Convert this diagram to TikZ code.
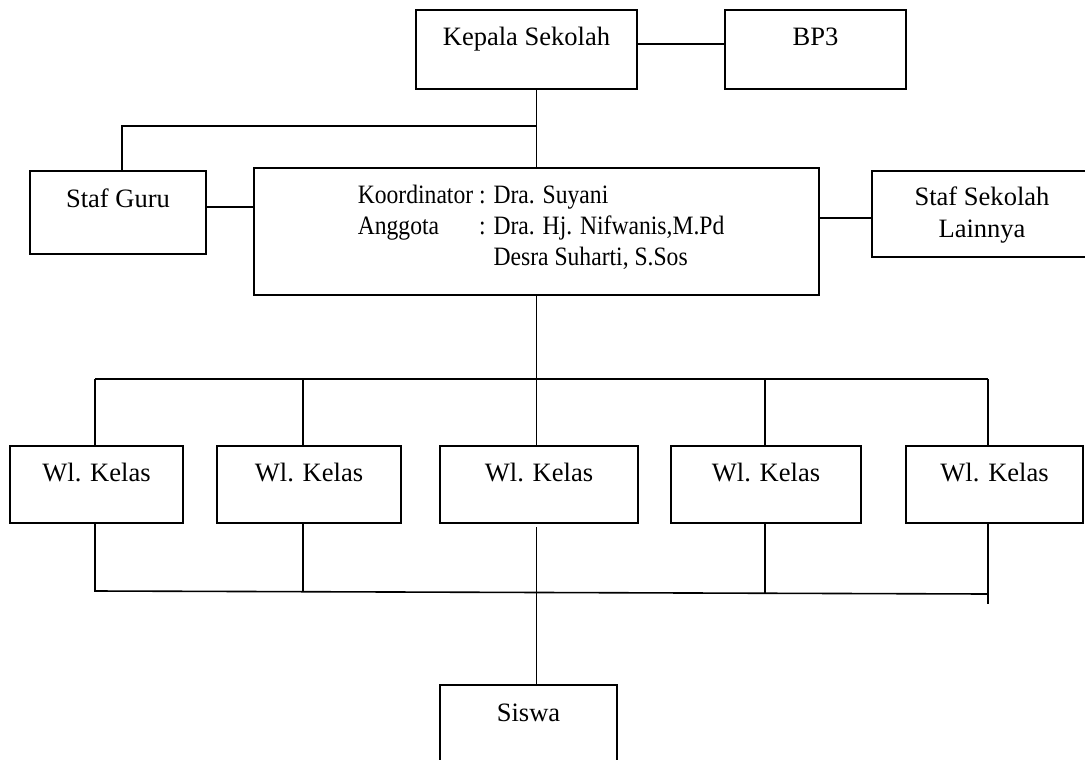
\documentclass[tikz,border=0pt]{standalone}
\usepackage{fontspec}
\setmainfont{Liberation Serif}
\newfontfamily\condserif[FakeStretch=0.89]{Liberation Serif}
\begin{document}
\begin{tikzpicture}[x=0.75pt,y=-0.75pt,
  line width=1.2pt,
  orgbox/.style={draw=black, line width=1.2pt, rectangle, inner sep=0pt, outer sep=0pt},
  lbl/.style={anchor=base, inner sep=0pt, font=\fontsize{19.9pt}{24pt}\selectfont}]
\clip (0,0) rectangle (1085,760);
\fill[white] (0,0) rectangle (1085,760);

% boxes
\node[orgbox, minimum width=165.75pt, minimum height=59.25pt] (kepala) at (526.5,49.5) {};
\node[orgbox, minimum width=135.75pt, minimum height=59.25pt] (bp3) at (815.5,49.5) {};
\node[orgbox, minimum width=132pt, minimum height=62.25pt] (stafguru) at (118,212.5) {};
\node[orgbox, minimum width=423.75pt, minimum height=95.25pt] (koord) at (536.5,231.5) {};
\node[orgbox, minimum width=165pt, minimum height=64.5pt] (stafsek) at (982,214) {};
\node[orgbox, minimum width=129.75pt, minimum height=57.75pt] (wl1) at (96.5,484.5) {};
\node[orgbox, minimum width=138pt, minimum height=57.75pt] (wl2) at (309,484.5) {};
\node[orgbox, minimum width=148.5pt, minimum height=57.75pt] (wl3) at (539,484.5) {};
\node[orgbox, minimum width=142.5pt, minimum height=57.75pt] (wl4) at (766,484.5) {};
\node[orgbox, minimum width=132.75pt, minimum height=57.75pt] (wl5) at (994.5,484.5) {};
\node[orgbox, minimum width=132.75pt, minimum height=67.5pt] (siswa) at (528.5,730) {};

% labels
\node[lbl] (tkepala) at ([yshift=-26.6pt]kepala.north) {Kepala Sekolah};
\node[lbl] (tbp3) at ([yshift=-26.6pt]bp3.north) {BP3};
\node[lbl] (tstafguru) at ([yshift=-27pt]stafguru.north) {Staf Guru};
\node[lbl] (tstafsek) at ([yshift=-25.5pt]stafsek.north) {\begin{tabular}[t]{@{}c@{}}Staf Sekolah\\[0pt]Lainnya\end{tabular}};
\node[lbl] (twl1) at ([yshift=-26.3pt]wl1.north) {Wl. Kelas};
\node[lbl] (twl2) at ([yshift=-26.3pt]wl2.north) {Wl. Kelas};
\node[lbl] (twl3) at ([yshift=-26.3pt]wl3.north) {Wl. Kelas};
\node[lbl] (twl4) at ([yshift=-26.3pt]wl4.north) {Wl. Kelas};
\node[lbl] (twl5) at ([yshift=-26.3pt]wl5.north) {Wl. Kelas};
\node[lbl] (tsiswa) at ([yshift=-27pt]siswa.north) {Siswa};
\node[anchor=base west, inner sep=0pt, font=\fontsize{19.9pt}{23.25pt}\selectfont\condserif] (tkoord) at (357,203)
  {\def\arraystretch{1}\begin{tabular}[t]{@{}l@{ }l@{}}
   Koordinator & : Dra. Suyani\\
   Anggota & : Dra. Hj. Nifwanis,M.Pd\\
   & \phantom{: }Desra Suharti, S.Sos
   \end{tabular}};

% connector helper coordinates
\coordinate (yk) at (0,44);
\coordinate (j1) at (536.5,126);
\coordinate (j2) at (122,126);
\coordinate (ysg) at (0,207);
\coordinate (yss) at (0,218);
\coordinate (b1) at (95,379);
\coordinate (b2) at (303,379);
\coordinate (b3) at (536.5,379);
\coordinate (b4) at (765,379);
\coordinate (b5) at (988,379);
\coordinate (c1) at (95,591);
\coordinate (c2) at (303,591.7);
\coordinate (c4) at (765,593.2);
\coordinate (c5) at (988,594);
\coordinate (c5e) at (988,604);

% connectors
\draw (kepala.east |- yk) -- (bp3.west |- yk);
\draw (koord.north) -- (koord.north |- kepala.south);
\draw (j1) -- (j2) -- (stafguru.north -| j2);
\draw (stafguru.east |- ysg) -- (koord.west |- ysg);
\draw (koord.east |- yss) -- (stafsek.west |- yss);
\draw (koord.south) -- (b3);
\draw (b1) -- (b5);
\draw (b1) -- (wl1.north -| b1);
\draw (b2) -- (wl2.north -| b2);
\draw (b3) -- (wl3.north -| b3);
\draw (b4) -- (wl4.north -| b4);
\draw (b5) -- (wl5.north -| b5);
\draw (wl1.south -| c1) -- (c1) -- (c5);
\draw (wl2.south -| c2) -- (c2);
\draw (wl4.south -| c4) -- (c4);
\draw (wl5.south -| c5) -- (c5e);
\draw ([yshift=-3pt]wl3.south -| b3) -- (siswa.north -| b3);
\end{tikzpicture}
\end{document}
